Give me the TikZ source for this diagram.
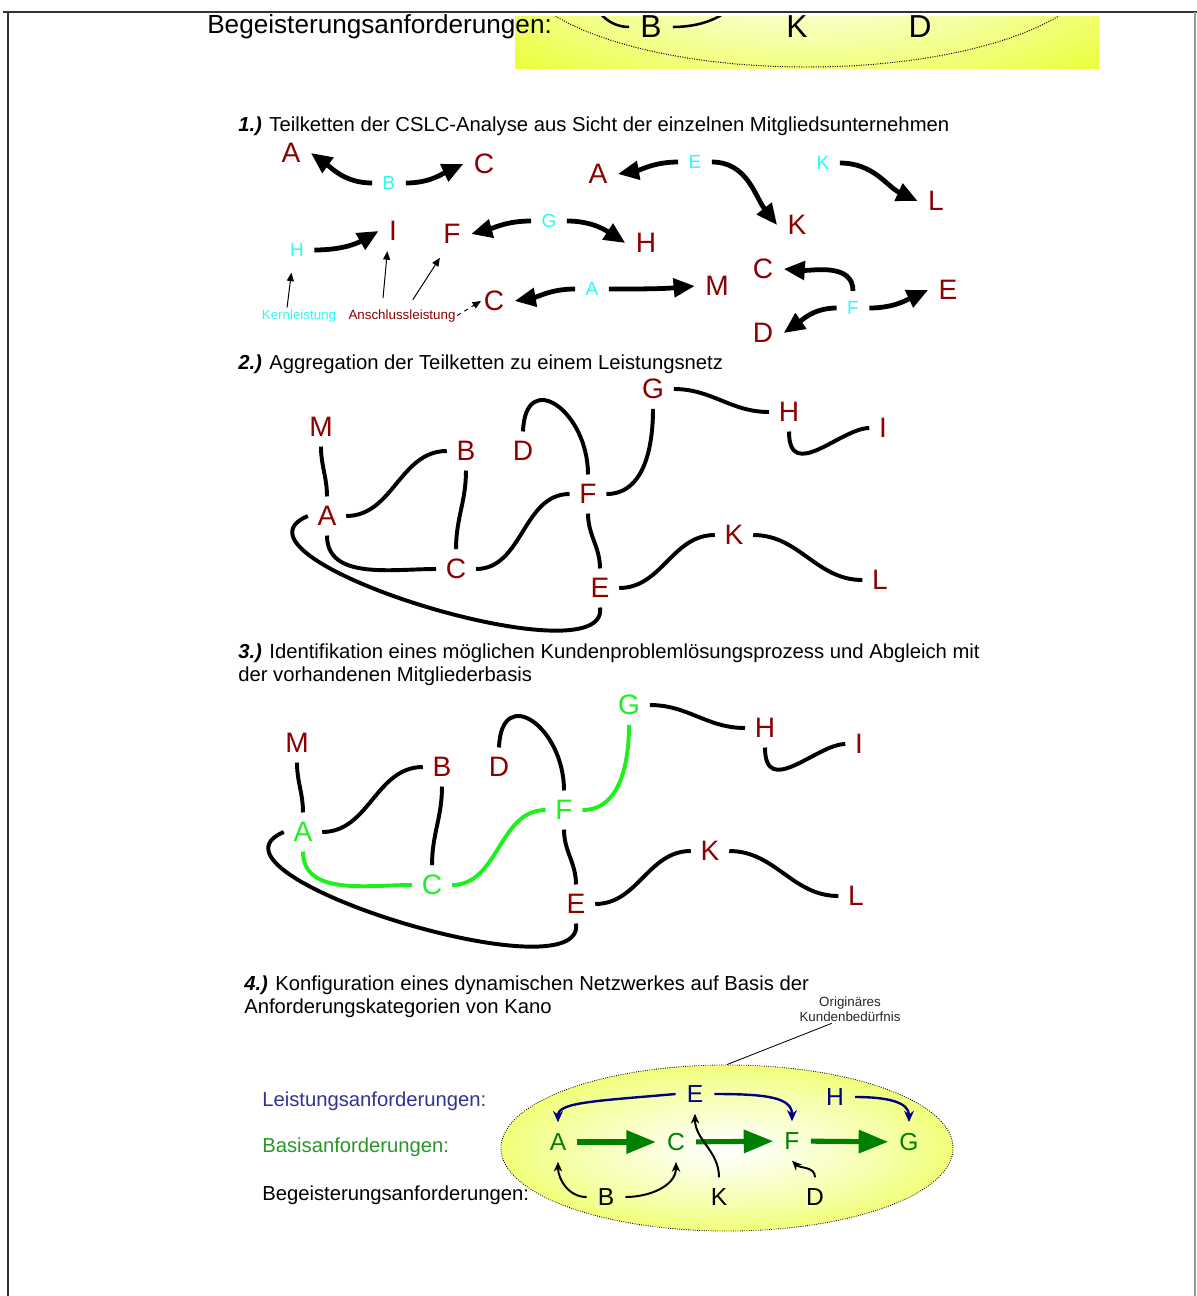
\documentclass[tikz,border=0pt]{standalone}
\usepackage{fontspec}
\setmainfont{Liberation Sans}
\usetikzlibrary{arrows.meta,shapes.geometric}

\definecolor{dunkelrot}{RGB}{140,0,0}
\definecolor{tuerkis}{RGB}{40,250,250}
\definecolor{hellgruen}{RGB}{30,240,30}
\definecolor{basisgruen}{RGB}{0,128,0}
\definecolor{labelgruen}{RGB}{40,150,40}
\definecolor{dunkelblau}{RGB}{0,0,128}
\definecolor{labelblau}{RGB}{50,50,150}
\definecolor{kanogelb}{RGB}{228,255,0}

\pgfdeclareradialshading{kano}{\pgfpoint{0bp}{0bp}}{color(0bp)=(white); color(5bp)=(kanogelb!8!white); color(18bp)=(kanogelb!35!white); color(32bp)=(kanogelb!70!white); color(44bp)=(kanogelb); color(50bp)=(kanogelb)}

\tikzset{
  kopf/.style={font=\fontsize{14.4}{17.3}\selectfont, anchor=base west, inner sep=0pt},
  buchstabe/.style={font=\fontsize{20}{20}\selectfont, text=dunkelrot, inner sep=2.5pt, outer sep=5pt},
  kern/.style={font=\fontsize{13.5}{13.5}\selectfont, text=tuerkis, inner sep=2.5pt, outer sep=5pt},
  notiz/.style={font=\fontsize{9.5}{11}\selectfont, inner sep=1pt},
  fett/.style={line width=3.4pt, -{Triangle[length=15pt,width=13pt]}},
  duenn/.style={line width=0.7pt, -{Triangle[length=6pt,width=5pt]}},
  netz/.style={line width=2.8pt},
  netzbuchstabe/.style={font=\fontsize{20}{20}\selectfont, text=dunkelrot, inner sep=3pt, outer sep=4pt},
  kanobuchstabe/.style={font=\fontsize{17.5}{17.5}\selectfont, inner sep=3pt, outer sep=5pt},
  basispfeil/.style={line width=3.6pt, draw=basisgruen, -{Triangle[length=21pt,width=16pt]}},
  leistungspfeil/.style={line width=1.7pt, draw=dunkelblau, -{Stealth[length=8pt,width=7pt]}},
  begeisterungspfeil/.style={line width=1.4pt, -{Stealth[length=7pt,width=6pt]}}
}

% Leistungsnetz aus Schritt 2 und 3 (#1 Buchstaben, #2 Linien des Prozesses)
\newcommand{\leistungsnetz}[2]{%
  \node[netzbuchstabe] (m) at (321,-427) {M};
  \node[netzbuchstabe, text=#1] (a) at (327,-516) {A};
  \node[netzbuchstabe] (b) at (466,-451) {B};
  \node[netzbuchstabe] (d) at (523,-451) {D};
  \node[netzbuchstabe, text=#1] (c) at (456,-569) {C};
  \node[netzbuchstabe, text=#1] (f) at (588,-494) {F};
  \node[netzbuchstabe] (e) at (600,-588) {E};
  \node[netzbuchstabe, text=#1] (g) at (653,-389) {G};
  \node[netzbuchstabe] (h) at (789,-412) {H};
  \node[netzbuchstabe] (i) at (883,-428) {I};
  \node[netzbuchstabe] (k) at (734,-535) {K};
  \node[netzbuchstabe] (l) at (880,-580) {L};
  \draw[netz] (m.south) to[out=-90,in=90] (a.north);
  \draw[netz] (a.east) to[out=0,in=180] (b.west);
  \draw[netz] (b.south) to[out=-90,in=90] (c.north);
  \draw[netz, draw=#2] (a.south) to[out=-90,in=180] (c.west);
  \draw[netz, draw=#2] (c.east) to[out=0,in=180] (f.west);
  \draw[netz] (d.north) to[out=88,in=90,looseness=2.1] (f.north);
  \draw[netz, draw=#2] (f.east) to[out=0,in=-90] (g.south);
  \draw[netz] (g.east) to[out=0,in=180] (h.west);
  \draw[netz] (h.south) to[out=-90,in=180,out distance=1.3cm,in distance=0.7cm] (i.west);
  \draw[netz] (f.south) to[out=-90,in=90] (e.north);
  \draw[netz] (e.east) to[out=0,in=180] (k.west);
  \draw[netz] (k.east) to[out=0,in=180] (l.west);
  \draw[netz] (a.west) to[out=203,in=-82,out distance=2.67cm,in distance=1.87cm] (e.south);
}

\begin{document}
\begin{tikzpicture}[x=0.025cm, y=0.025cm]
  \useasboundingbox (0,0) rectangle (1197,-1296);
  % Rahmen
  \draw[line width=1.3pt, black!80] (3,-12) -- (1197,-12);
  \draw[line width=1.3pt, black!80] (8,-12) -- (8,-1296);
  \draw[line width=0.8pt, black!40] (1195,-12) -- (1195,-1296);

  % abgeschnittener Rest oben
  \begin{scope}
    \clip (514,-16) rectangle (1100,-68);
    \shade[shading=kano] (515,143) rectangle (1099,-71);
    \draw[densely dotted, line width=0.7pt] (807,36) ellipse [x radius=291.5, y radius=103];
  \end{scope}
  \node[kopf, font=\fontsize{18.6}{20}\selectfont] (o-lc) at (207,-33) {Begeisterungsanforderungen:};
  \node[kanobuchstabe, font=\fontsize{22.6}{22.6}\selectfont] (o-b) at (651,-27) {B};
  \node[kanobuchstabe, font=\fontsize{22.6}{22.6}\selectfont] (o-k) at (797,-27) {K};
  \node[kanobuchstabe, font=\fontsize{22.6}{22.6}\selectfont] (o-d) at (920,-27) {D};
  \coordinate (o-a) at (589,18);
  \coordinate (o-c) at (741,18);
  \begin{scope}
    \clip (514,-16) rectangle (1100,-68);
    \draw[line width=1.8pt] (o-b.west) to[out=180,in=-90] (o-a);
    \draw[line width=1.8pt] (o-b.east) to[out=0,in=-90] (o-c);
  \end{scope}

  % 1.)
  \node[kopf] (h1) at (238,-131) {\textbf{\textit{1.)}} Teilketten der CSLC-Analyse aus Sicht der einzelnen Mitgliedsunternehmen};
  \node[buchstabe] (t1a) at (291,-153) {A};
  \node[kern] (t1b) at (389,-183) {B};
  \node[buchstabe] (t1c) at (484,-164) {C};
  \node[kern] (t1h) at (297,-250) {H};
  \node[buchstabe] (t1i) at (393,-231) {I};
  \node[buchstabe] (t1f) at (452,-234) {F};
  \node[kern] (t1g) at (549,-221) {G};
  \node[buchstabe] (t1hh) at (646,-243) {H};
  \node[notiz, anchor=base, text=tuerkis] (t1kern) at (299,-319) {Kernleistung};
  \node[notiz, anchor=base, text=dunkelrot] (t1ansch) at (402,-319) {Anschlussleistung};
  \node[buchstabe] (t1cc) at (494,-301) {C};
  \node[kern] (t1aa) at (592,-289) {A};
  \node[buchstabe] (t1m) at (717,-286) {M};
  \node[buchstabe] (t1a2) at (598,-174) {A};
  \node[kern] (t1e) at (695,-162) {E};
  \node[buchstabe] (t1k) at (797,-225) {K};
  \node[kern] (t1kk) at (823,-163) {K};
  \node[buchstabe] (t1l) at (936,-201) {L};
  \node[buchstabe] (t1c2) at (763,-269) {C};
  \node[kern] (t1f2) at (853,-308) {F};
  \node[buchstabe] (t1d) at (763,-333) {D};
  \node[buchstabe] (t1e2) at (948,-290) {E};

  \draw[fett] (t1b.west) to[out=180,in=-36] (t1a.east);
  \draw[fett] (t1b.east) to[out=0,in=-155] (t1c.west);
  \draw[fett] (t1h.east) to[out=0,in=210] (t1i.west);
  \draw[fett] (t1g.west) to[out=180,in=15] (t1f.east);
  \draw[fett] (t1g.east) to[out=0,in=147] (t1hh.west);
  \draw[fett] (t1aa.west) to[out=180,in=10] (t1cc.east);
  \draw[fett] (t1aa.east) to[out=0,in=185] (t1m.west);
  \draw[fett] (t1e.west) to[out=180,in=10] (t1a2.east);
  \draw[fett] (t1e.east) to[out=0,in=128] (t1k.west);
  \draw[fett] (t1kk.east) to[out=0,in=155] (t1l.west);
  \draw[fett] (t1f2.north) to[out=90,in=-4] (t1c2.east);
  \draw[fett] (t1f2.west) to[out=180,in=35] (t1d.east);
  \draw[fett] (t1f2.east) to[out=0,in=205] (t1e2.west);
  \draw[duenn, shorten >=4pt] ([xshift=-8.5pt]t1kern.north) -- ([xshift=-3.5pt]t1h.south);
  \draw[duenn] ([xshift=-13.5pt,yshift=7pt]t1ansch.north) -- ([xshift=-4pt]t1i.south);
  \draw[duenn, shorten >=3pt] ([xshift=7.7pt,yshift=5.6pt]t1ansch.north) -- ([xshift=-7pt]t1f.south);
  \draw[duenn, dashed] (t1ansch.east) -- ([xshift=5.5pt]t1cc.west);

  % 2.)
  \node[kopf] (h2) at (238,-369) {\textbf{\textit{2.)}} Aggregation der Teilketten zu einem Leistungsnetz};
  \begin{scope}[name prefix=s2-]
    \leistungsnetz{dunkelrot}{black}
  \end{scope}

  % 3.)
  \node[kopf] (h3) at (238,-658) {\textbf{\textit{3.)}} Identifikation eines möglichen Kundenproblemlösungsprozess und Abgleich mit};
  \node[kopf] (h3b) at (238,-681) {der vorhandenen Mitgliederbasis};
  \begin{scope}[shift={(-24,-316)}, name prefix=s3-]
    \leistungsnetz{hellgruen}{hellgruen}
  \end{scope}

  % 4.)
  \node[kopf] (h4) at (244,-990) {\textbf{\textit{4.)}} Konfiguration eines dynamischen Netzwerkes auf Basis der};
  \node[kopf] (h4b) at (244,-1013) {Anforderungskategorien von Kano};
  \node[ellipse, draw, densely dotted, line width=0.6pt, shade, shading=kano,
        minimum width=11.3cm, minimum height=4.15cm, inner sep=0pt] (k-ell) at (727,-1148) {};
  \node[kopf, text=labelblau] (k-la) at (262,-1106) {Leistungsanforderungen:};
  \node[kopf, text=labelgruen] (k-lb) at (262,-1152) {Basisanforderungen:};
  \node[kopf] (k-lc) at (262,-1200) {Begeisterungsanforderungen:};
  \node[kanobuchstabe, text=dunkelblau] (k-e) at (695,-1094) {E};
  \node[kanobuchstabe, text=dunkelblau] (k-h) at (835,-1097) {H};
  \node[kanobuchstabe, text=basisgruen] (k-a) at (558,-1142) {A};
  \node[kanobuchstabe, text=basisgruen] (k-c) at (676,-1142) {C};
  \node[kanobuchstabe, text=basisgruen] (k-f) at (792,-1141) {F};
  \node[kanobuchstabe, text=basisgruen] (k-g) at (909,-1142) {G};
  \node[kanobuchstabe] (k-b) at (606,-1197) {B};
  \node[kanobuchstabe] (k-k) at (719,-1197) {K};
  \node[kanobuchstabe] (k-d) at (815,-1197) {D};
  \draw[basispfeil] (k-a) -- (k-c);
  \draw[basispfeil] (k-c) -- (k-f);
  \draw[basispfeil] (k-f) -- (k-g);
  \draw[leistungspfeil] (k-e.west) to[out=185,in=90,out distance=2cm,in distance=0.5cm] (k-a.north);
  \draw[leistungspfeil] (k-e.east) to[out=0,in=90,out distance=1.3cm,in distance=0.6cm] (k-f.north);
  \draw[leistungspfeil] (k-h.east) to[out=0,in=90,out distance=0.8cm,in distance=0.5cm] (k-g.north);
  \draw[begeisterungspfeil] (k-b.west) to[out=180,in=-90] (k-a.south);
  \draw[begeisterungspfeil] (k-b.east) to[out=0,in=-90] (k-c.south);
  \draw[begeisterungspfeil] (k-k.north) to[out=90,in=-90] (k-e.south);
  \draw[begeisterungspfeil] (k-d.north) to[out=90,in=-45] (k-f.south);
  \node[notiz, align=center, text=black!85] (orig) at (850,-1009) {Originäres\\Kundenbedürfnis};
  \draw[line width=0.6pt] ([xshift=-13pt]orig.south) -- (k-ell.north);
\end{tikzpicture}
\end{document}
